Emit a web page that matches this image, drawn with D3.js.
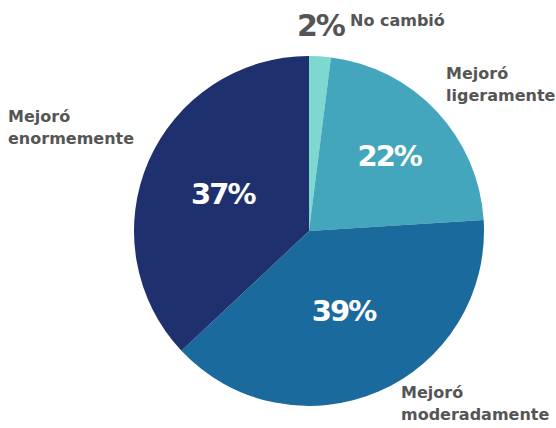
<!DOCTYPE html>
<html><head><meta charset="utf-8">
<script src="https://cdn.jsdelivr.net/npm/d3@7"></script>
<style>body{margin:0;background:#fff}svg{display:block}</style>
</head><body>
<script>
const categories = ["No cambió", "Mejoró ligeramente", "Mejoró moderadamente", "Mejoró enormemente"];
const values = [2, 22, 39, 37];
const pctLabels = ["2%", "22%", "39%", "37%"];
const colors = ["#7dd8cf", "#44a6bd", "#1b6a9d", "#1f306e"];

const W = 556, H = 428, cx = 309, cy = 231, R = 175;
const svg = d3.select("body").append("svg").attr("width", W).attr("height", H);
const g = svg.append("g").attr("transform", `translate(${cx},${cy})`);
const pie = d3.pie().sort(null).value(d => d)(values);
const arc = d3.arc().innerRadius(0).outerRadius(R);
g.selectAll("path").data(pie).join("path").attr("d", arc).attr("fill", (d, i) => colors[i]);

const font = "'DejaVu Sans', sans-serif";
const innerR = [0, 110, 87, 94];
pie.forEach((d, i) => {
  if (i === 0) return;
  const c = d3.arc().innerRadius(innerR[i]).outerRadius(innerR[i]).centroid(d);
  g.append("text").attr("x", c[0]).attr("y", c[1]).attr("dy", "0.36em")
    .attr("text-anchor", "middle").attr("fill", "#fff").attr("font-family", font)
    .attr("font-weight", "bold").attr("font-size", 29).attr("letter-spacing", -2).text(pctLabels[i]);
});
svg.append("text").attr("x", 297).attr("y", 36).attr("fill", "#555")
  .attr("font-family", font).attr("font-weight", "bold").attr("font-size", 30).attr("letter-spacing", -2).text(pctLabels[0]);
const outside = [
  {x: 350, y: 26},
  {x: 446, y: 79},
  {x: 401, y: 398},
  {x: 8, y: 122}
];
outside.forEach((o, i) => {
  const t = svg.append("text").attr("x", o.x).attr("y", o.y).attr("fill", "#555")
    .attr("font-family", font).attr("font-weight", "bold").attr("font-size", 16);
  const lines = i === 0 ? [categories[0]] : ["Mejoró", categories[i].replace("Mejoró ", "")];
  lines.forEach((l, k) => t.append("tspan").attr("x", o.x).attr("dy", k ? 22 : 0).text(l));
});
</script>
</body></html>
